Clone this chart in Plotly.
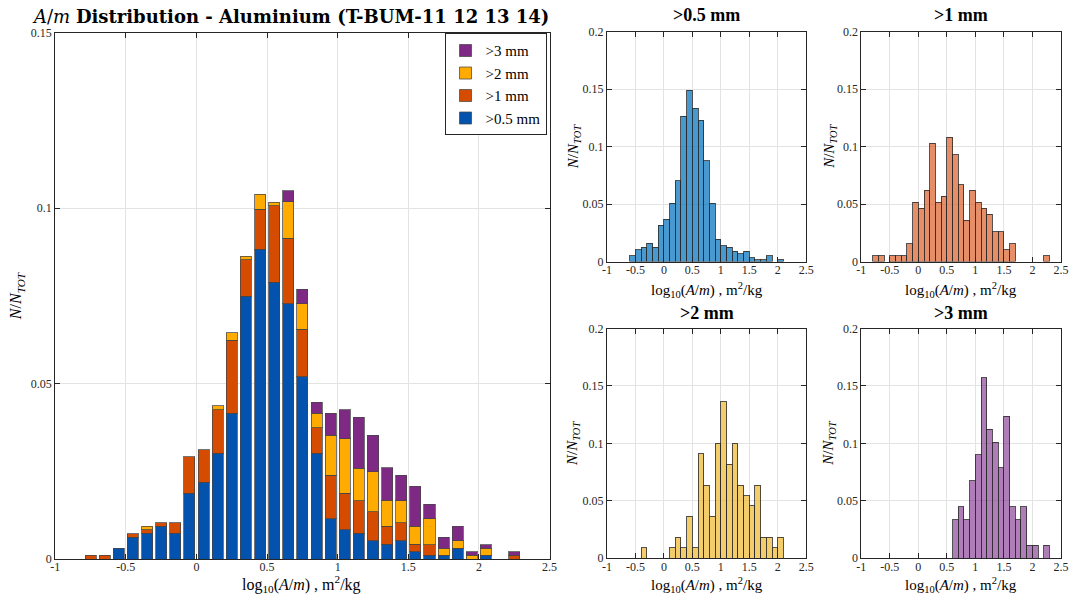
import plotly.graph_objects as go

# ---------------- data ----------------
main_centers = [-0.75, -0.65, -0.55, -0.45, -0.35, -0.25, -0.15, -0.05, 0.05, 0.15, 0.25, 0.35,
                0.45, 0.55, 0.65, 0.75, 0.85, 0.95, 1.05, 1.15, 1.25, 1.35, 1.45, 1.55, 1.65,
                1.75, 1.85, 1.95, 2.05, 2.15, 2.25]
main_05 = [None, None, .0031, .0062, .0073, .0093, .0073, .0187, .0218, .0301, .0415, .0748,
           .0883, .0789, .0727, .0519, .0301, .0114, .0083, .0073, .0052, .0042, .0052, .0021, .0010,
           .0010, .0031, None, .0010, None, None]
main_1 = [.0010, .0010, None, .0010, .0010, .0010, .0031, .0104, .0093, .0125, .0208, .0104,
          .0114, .0218, .0187, .0135, .0073, .0125, .0104, .0093, .0083, .0052, .0052, .0021, .0031,
          None, None, None, None, None, .0010]
main_2 = [None, None, None, None, .0010, None, None, None, None, .0010, .0021, .0010,
          .0042, .0010, .0104, .0073, .0042, .0114, .0156, .0093, .0114, .0073, .0062, .0052, .0073,
          .0021, .0021, .0010, .0021, None, None]
main_3 = [None, None, None, None, None, None, None, None, None, None, None, None,
          None, None, .0031, .0042, .0031, .0062, .0083, .0145, .0104, .0093, .0073, .0114, .0042,
          .0031, .0042, .0010, .0010, None, .0010]

sub05_x = [-0.55, -0.45, -0.35, -0.25, -0.15, -0.05, 0.05, 0.15, 0.25, 0.35, 0.45, 0.55, 0.65,
           0.75, 0.85, 0.95, 1.05, 1.15, 1.25, 1.35, 1.45, 1.55, 1.65, 1.75, 1.85, 2.05]
sub05_y = [.0053, .0105, .0123, .0158, .0123, .0316, .0368, .0509, .0702, .1263, .1491, .1333, .1228,
           .0877, .0509, .0193, .0140, .0123, .0088, .0070, .0088, .0035, .0018, .0018, .0053, .0018]

sub1_x = [-0.75, -0.65, -0.45, -0.35, -0.25, -0.15, -0.05, 0.05, 0.15, 0.25, 0.35, 0.45, 0.55,
          0.65, 0.75, 0.85, 0.95, 1.05, 1.15, 1.25, 1.35, 1.45, 1.55, 1.65, 2.25]
sub1_y = [.0052, .0052, .0052, .0052, .0052, .0155, .0515, .0464, .0619, .1031, .0515, .0567, .1082,
          .0928, .0670, .0361, .0619, .0515, .0464, .0412, .0258, .0258, .0103, .0155, .0052]

sub2_x = [-0.35, 0.15, 0.25, 0.35, 0.45, 0.55, 0.65, 0.75, 0.85, 0.95, 1.05, 1.15, 1.25, 1.35,
          1.45, 1.55, 1.65, 1.75, 1.85, 1.95, 2.05]
sub2_y = [.0091, .0091, .0182, .0091, .0364, .0091, .0909, .0636, .0364, .1000, .1364, .0818, .1000,
          .0636, .0545, .0455, .0636, .0182, .0182, .0091, .0182]

sub3_x = [0.65, 0.75, 0.85, 0.95, 1.05, 1.15, 1.25, 1.35, 1.45, 1.55, 1.65, 1.75, 1.85, 1.95,
          2.05, 2.25]
sub3_y = [.0337, .0449, .0337, .0674, .0899, .1573, .1124, .1011, .0787, .1236, .0449, .0337,
          .0449, .0112, .0112, .0112]

x_ticks = [-1, -0.5, 0, 0.5, 1, 1.5, 2, 2.5]
x_ticklabels = ["-1", "-0.5", "0", "0.5", "1", "1.5", "2", "2.5"]
main_yticks = [0, 0.05, 0.1, 0.15]
main_yticklabels = ["0", "0.05", "0.1", "0.15"]
sub_yticks = [0, 0.05, 0.1, 0.15, 0.2]
sub_yticklabels = ["0", "0.05", "0.1", "0.15", "0.2"]

series_names = [">0.5 mm", ">1 mm", ">2 mm", ">3 mm"]
main_colors = ["#0352AE", "#D54C00", "#FFAB00", "#7E2A84"]
sub_colors = ["rgba(0,114,189,0.72)", "rgba(217,83,25,0.66)", "rgba(237,177,32,0.66)",
              "rgba(126,47,142,0.62)"]

# ---------------- figure ----------------
W, H = 1069, 595
# observed page -> picture mapping (default 8 px body margin, page scaled into the picture)
OFF = 8
SX, SY = 1069 / 1085, 595 / 611
fig = go.Figure()

TXT = "#262626"
FONT = "Liberation Serif"

for vals, name, col in zip([main_05, main_1, main_2, main_3], series_names, main_colors):
    fig.add_trace(go.Bar(x=main_centers, y=vals, name=name, width=0.078,
                         marker=dict(color=col, line=dict(color="rgba(70,70,70,0.75)", width=1)),
                         xaxis="x", yaxis="y", showlegend=True))

subs = [(sub05_x, sub05_y, "x2", "y2"), (sub1_x, sub1_y, "x3", "y3"),
        (sub2_x, sub2_y, "x4", "y4"), (sub3_x, sub3_y, "x5", "y5")]
for (sx, sy, xa, ya), col, name in zip(subs, sub_colors, series_names):
    fig.add_trace(go.Bar(x=sx, y=sy, width=0.1, name=name, showlegend=False,
                         marker=dict(color=col, line=dict(color="rgba(40,40,40,0.8)", width=1)),
                         xaxis=xa, yaxis=ya))

def fx(px):
    return (px / SX - OFF) / W

def fy(py):
    return 1 - (py / SY - OFF) / H

def px_x(a, b):
    return [fx(a), fx(b)]

def px_y(top, bottom):
    return [fy(bottom), fy(top)]

axis_common = dict(showline=True, linecolor=TXT, linewidth=1, mirror="ticks",
                   ticks="inside", ticklen=5, tickcolor=TXT, showgrid=True,
                   gridcolor="#E3E3E3", gridwidth=1, zeroline=False,
                   tickfont=dict(family=FONT, size=12, color=TXT))

doms = {
    "x": px_x(58, 551), "y": px_y(33.3, 558.3),
    "x2": px_x(608.3, 807), "y2": px_y(32.4, 261.7),
    "x3": px_x(862, 1061), "y3": px_y(32.4, 261.7),
    "x4": px_x(608.3, 807), "y4": px_y(328.5, 557.5),
    "x5": px_x(862, 1061), "y5": px_y(328.5, 557.5),
}

layout = dict(width=W, height=H, margin=dict(l=0, r=0, t=0, b=0),
              paper_bgcolor="white", plot_bgcolor="white", barmode="stack",
              font=dict(family=FONT, color=TXT),
              legend=dict(x=fx(548), y=fy(34), xanchor="right", yanchor="top",
                          bgcolor="white", bordercolor=TXT, borderwidth=1,
                          traceorder="reversed", itemwidth=30,
                          font=dict(family=FONT, size=15, color="black"),
                          tracegroupgap=0))

for i, (xa, ya) in enumerate([("x", "y"), ("x2", "y2"), ("x3", "y3"), ("x4", "y4"), ("x5", "y5")]):
    xkey = "xaxis" if xa == "x" else "xaxis" + xa[1:]
    ykey = "yaxis" if ya == "y" else "yaxis" + ya[1:]
    if i == 0:
        yt, ytl, yr = main_yticks, main_yticklabels, [0, 0.15]
    else:
        yt, ytl, yr = sub_yticks, sub_yticklabels, [0, 0.2]
    layout[xkey] = dict(axis_common, domain=doms[xa], range=[-1, 2.5], tickvals=x_ticks,
                        ticktext=x_ticklabels, anchor=ya, ticklabelstandoff=-3)
    layout[ykey] = dict(axis_common, domain=doms[ya], range=yr, tickvals=yt, ticktext=ytl,
                        anchor=xa)

fig.update_layout(**layout)

xlabel = "log<sub>10</sub>(<i>A</i>/<i>m</i>) , m<sup>2</sup>/kg"
ylabel = "<i>N</i>/<i>N</i><sub><i>TOT</i></sub>"

ann = []
def add_text(x, y, text, size, angle=0, family=FONT):
    ann.append(dict(x=fx(x), y=fy(y), xref="paper", yref="paper", text=text,
                    showarrow=False, textangle=angle, xanchor="center", yanchor="middle",
                    font=dict(family=family, size=size, color="black")))

add_text(293, 17, "<i>A</i>/<i>m</i> <b>Distribution - Aluminium (T-BUM-11 12 13 14)</b>", 18,
         family="DejaVu Serif")
add_text(304, 583, xlabel, 16)
add_text(20, 296, ylabel, 16, angle=-90)

for cx, cy_title, cy_x, cy_y, title in [
        (708, 16, 290, 147, ">0.5 mm"), (961, 16, 290, 147, ">1 mm"),
        (708, 313, 584, 443, ">2 mm"), (961, 313, 584, 443, ">3 mm")]:
    add_text(cx, cy_title, "<b>" + title + "</b>", 18)
    add_text(cx, cy_x, xlabel, 15)
    add_text(cx - 133 if cx < 800 else cx - 131, cy_y, ylabel, 15, angle=-90)

fig.update_layout(annotations=ann)
fig.write_html("out.html", config={"responsive": False})
